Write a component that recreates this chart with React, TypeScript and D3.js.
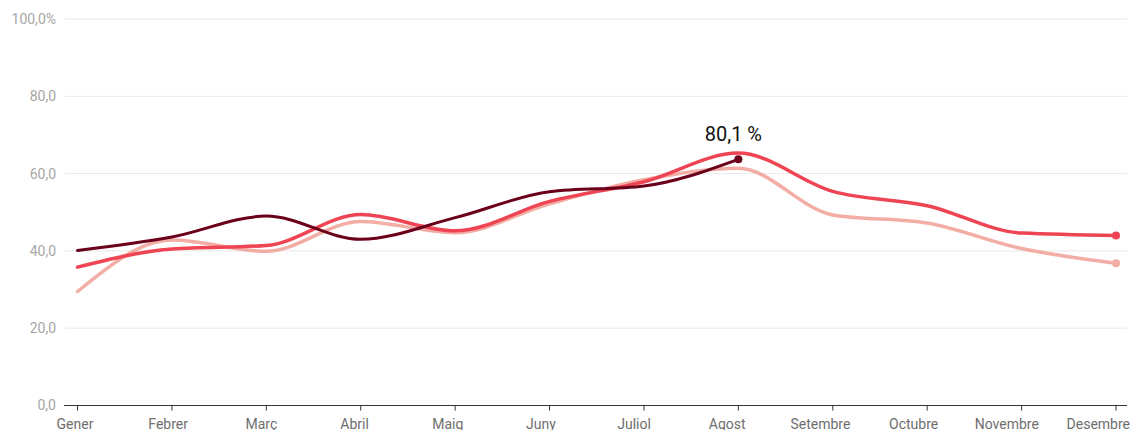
import React from "react";
import * as d3 from "d3";

const months = ["Gener", "Febrer", "Març", "Abril", "Maig", "Juny", "Juliol", "Agost", "Setembre", "Octubre", "Novembre", "Desembre"];
const seriesLight = [29.5, 42.8, 39.9, 47.6, 44.7, 52.2, 58.4, 61.4, 49.3, 47.2, 40.6, 36.8];
const seriesRed = [35.8, 40.5, 41.4, 49.4, 45.2, 52.8, 57.9, 65.3, 55.4, 51.7, 44.6, 44.0];
const seriesDark = [40.1, 43.6, 49.0, 43.0, 48.6, 55.3, 56.8, 63.7];
const yTicks = [0, 20, 40, 60, 80, 100];
const annotation = "80,1 %";

const W = 1133;
const H = 430;

export default function App() {
  const x = d3.scalePoint<string>().domain(months).range([77.5, 1116]);
  const xLabel = d3.scalePoint<string>().domain(months).range([75, 1100]);
  const y = d3.scaleLinear().domain([0, 100]).range([405.5, 19]);
  const fmt = (v: number) => d3.format(".1f")(v).replace(".", ",");

  const line = d3
    .line<number>()
    .x((_, i) => x(months[i]) as number)
    .y((d) => y(d))
    .curve(d3.curveMonotoneX);

  const series = [
    { data: seriesLight, color: "#f2ada5", width: 3.5 },
    { data: seriesRed, color: "#ee4453", width: 3.5 },
    { data: seriesDark, color: "#6a0019", width: 3 },
  ];

  const font = "Roboto, 'Noto Sans', sans-serif";
  const last = seriesDark.length - 1;

  return (
    <svg width={W} height={H} style={{ position: "absolute", left: 0, top: 0, background: "#fff" }}>
      {yTicks.map((t) => (
        <g key={t}>
          {t > 0 && <line x1={65} x2={1127} y1={y(t)} y2={y(t)} stroke="#e9e9e9" strokeWidth={1} />}
          <text x={56} y={y(t)} dy="0.35em" textAnchor="end" fontFamily={font} fontSize={14} fill="#a6a6a6">
            {fmt(t) + (t === 100 ? "%" : "")}
          </text>
        </g>
      ))}
      <line x1={64} x2={1127} y1={405.5} y2={405.5} stroke="#333" strokeWidth={1} />
      {months.map((m, i) => (
        <g key={m}>
          <line x1={x(m) as number} x2={x(m) as number} y1={405.5} y2={410.5} stroke="#333" strokeWidth={1} />
          {i === months.length - 1 ? (
            <text x={1130} y={428.5} textAnchor="end" fontFamily={font} fontSize={14} fill="#6e6e6e">
              {m}
            </text>
          ) : (
            <text x={xLabel(m) as number} y={428.5} textAnchor="middle" fontFamily={font} fontSize={14} fill="#6e6e6e">
              {m}
            </text>
          )}
        </g>
      ))}
      {series.map((s, i) => (
        <g key={i}>
          <path d={line(s.data) || ""} fill="none" stroke={s.color} strokeWidth={s.width} strokeLinecap="round" />
          <circle cx={x(months[s.data.length - 1]) as number} cy={y(s.data[s.data.length - 1])} r={4} fill={s.color} />
        </g>
      ))}
      <text
        x={(x(months[last]) as number) - 5}
        y={y(seriesDark[last]) - 18}
        textAnchor="middle"
        fontFamily={font}
        fontSize={20}
        fill="#111"
      >
        {annotation}
      </text>
    </svg>
  );
}
